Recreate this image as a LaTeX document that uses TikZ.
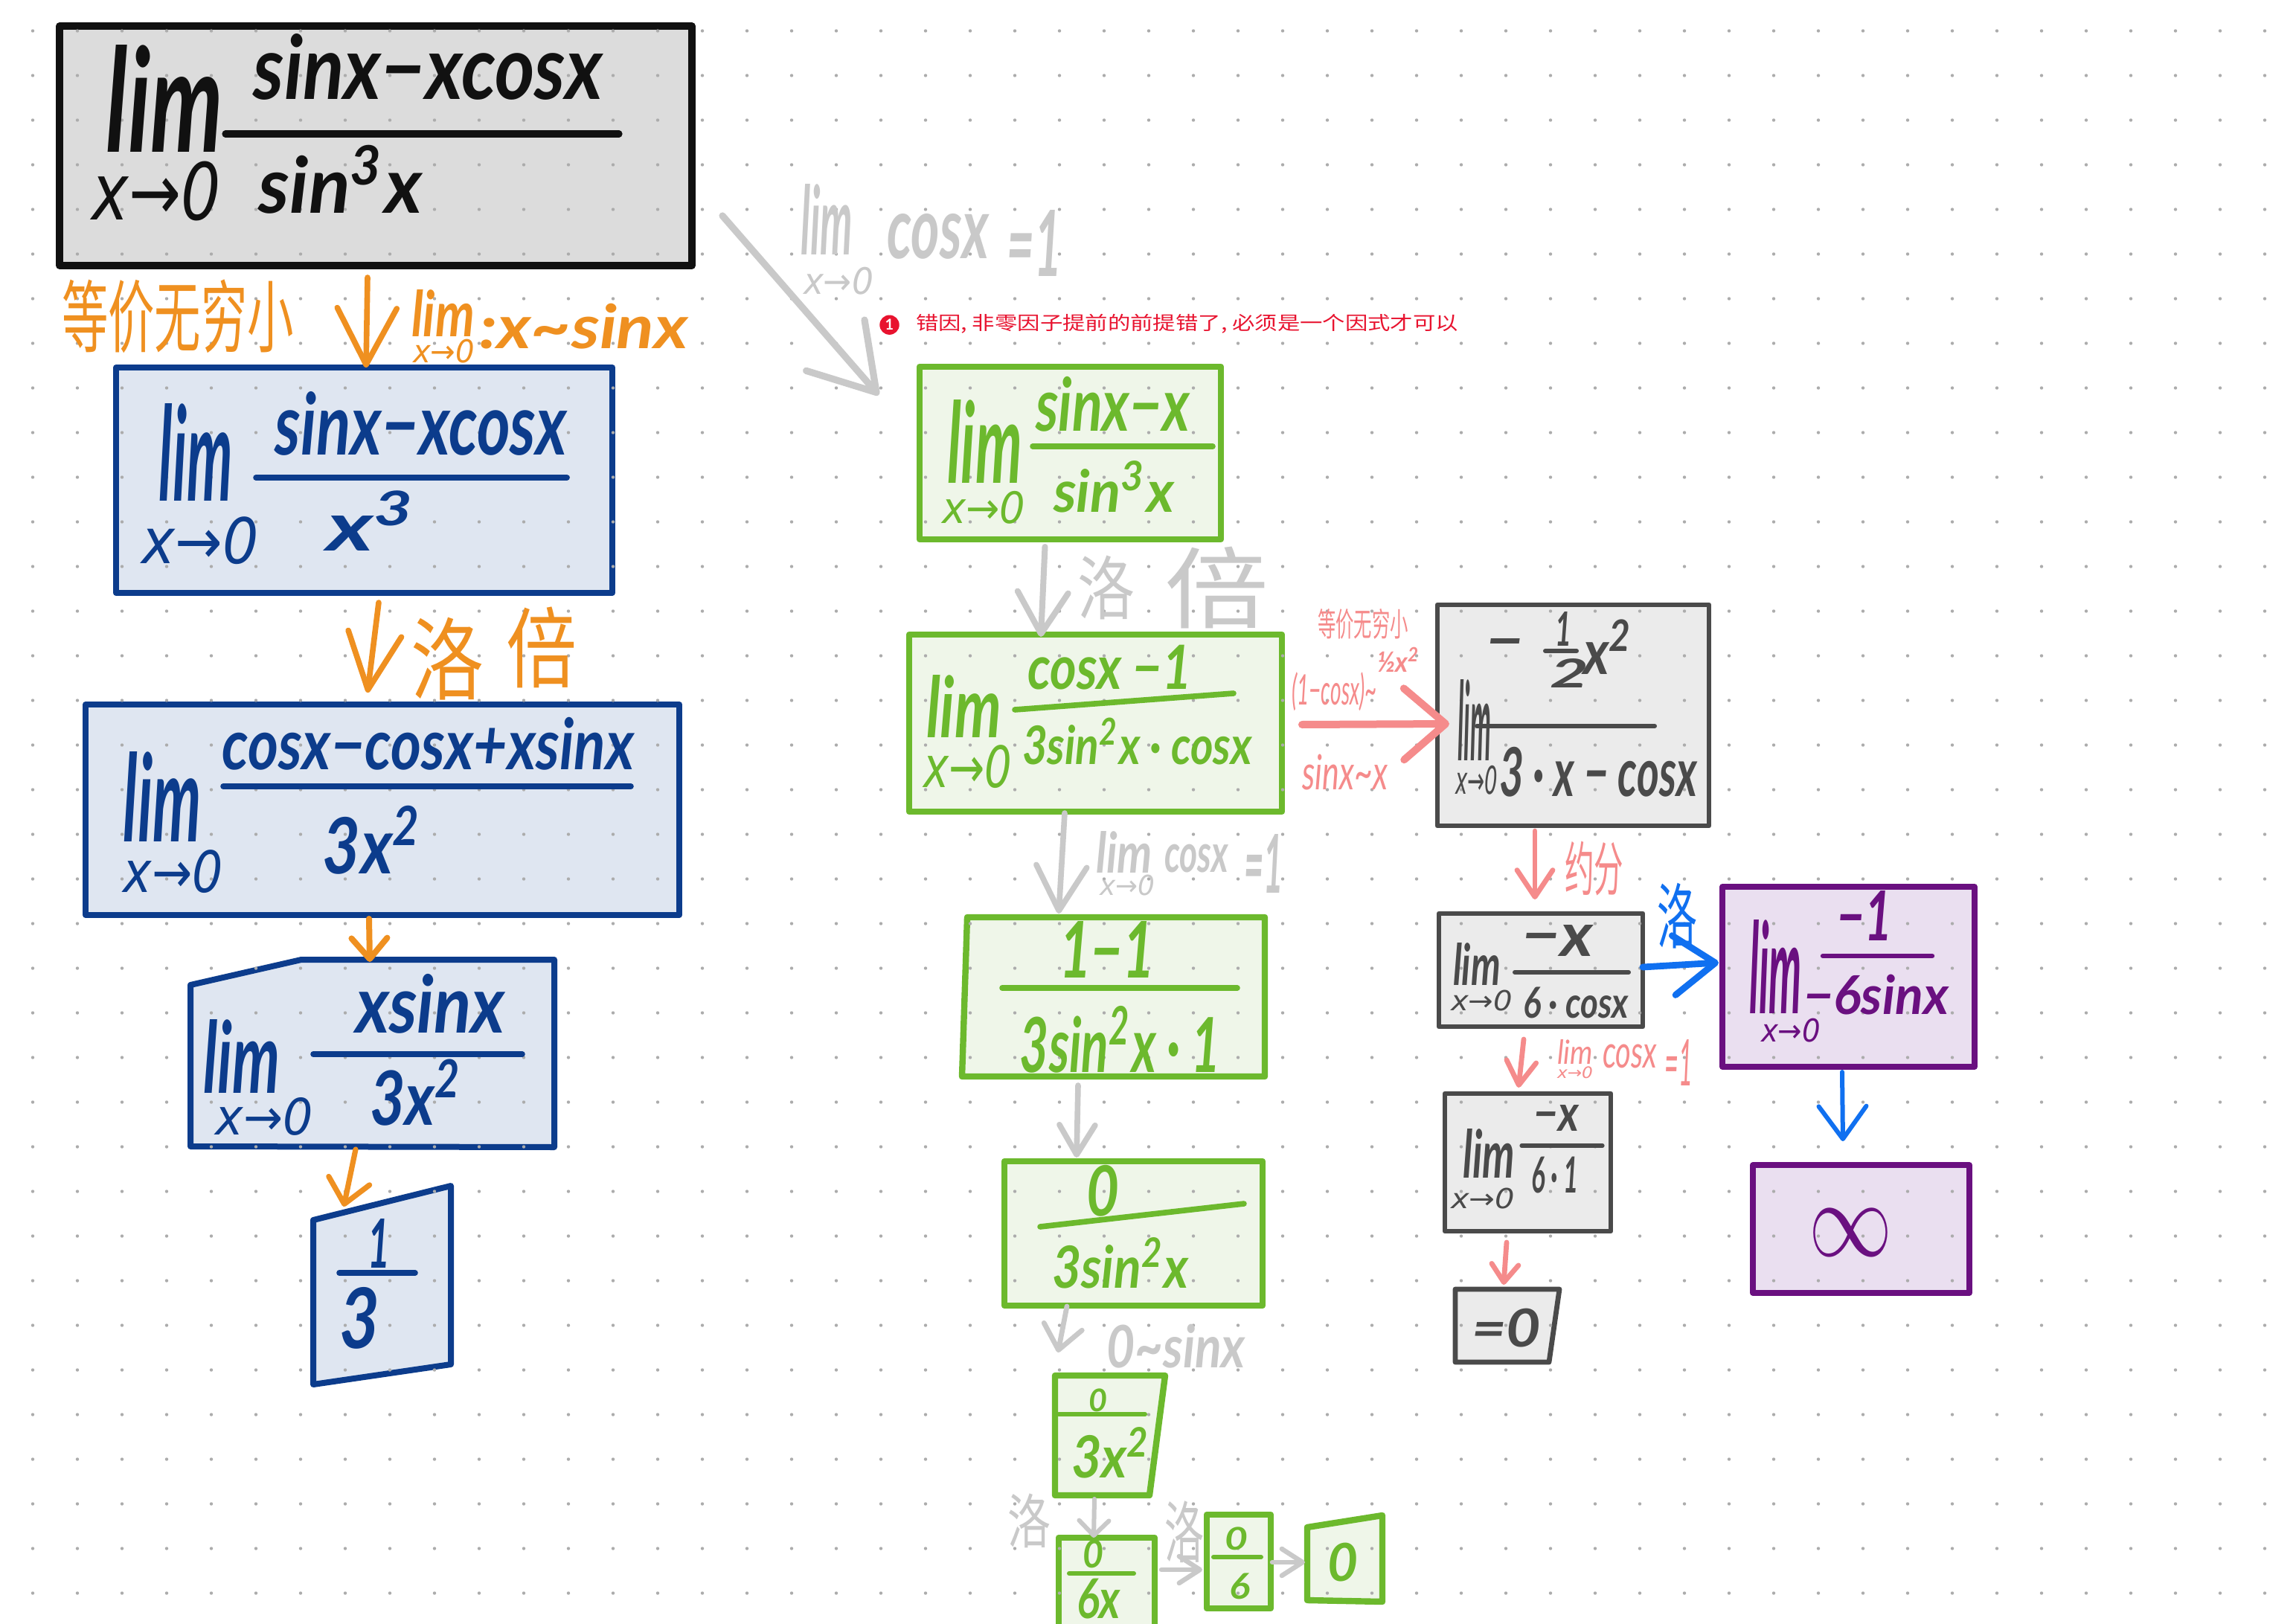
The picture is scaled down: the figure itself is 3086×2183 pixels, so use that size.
\documentclass[tikz,border=0pt]{standalone}
\usepackage{fontspec}
\usepackage{graphicx}
\usetikzlibrary{arrows.meta,calc}
\setmainfont{Lato}
\newfontfamily\cjk{Noto Sans CJK SC}
\newfontfamily\dv{DejaVu Sans}
\definecolor{cblack}{HTML}{111111}
\definecolor{cnavy}{HTML}{0C3C8C}
\definecolor{corange}{HTML}{EF9020}
\definecolor{cgreen}{HTML}{6CB92D}
\definecolor{cghost}{HTML}{C9C9C9}
\definecolor{cdark}{HTML}{4A4A4A}
\definecolor{cpink}{HTML}{F58B8B}
\definecolor{cpurple}{HTML}{6A1080}
\definecolor{cblue}{HTML}{1070F0}
\definecolor{cred}{HTML}{E8132F}
\definecolor{fgray}{HTML}{DCDCDC}
\definecolor{fnavy}{HTML}{DFE6F1}
\definecolor{fgreen}{HTML}{EFF6E9}
\definecolor{fdark}{HTML}{EBEBEB}
\definecolor{fpurple}{HTML}{EADFF0}
\tikzset{
  blackbox/.style={draw=cblack,fill=fgray,line width=2.4pt},
  navybox/.style={draw=cnavy,fill=fnavy,line width=2pt},
  greenbox/.style={draw=cgreen,fill=fgreen,line width=2.1pt},
  darkbox/.style={draw=cdark,fill=fdark,line width=1.7pt},
  purplebox/.style={draw=cpurple,fill=fpurple,line width=1.9pt},
  anchorbox/.style={draw=none,fill=none},
  hw/.style={inner sep=0pt,outer sep=0pt},
  bar/.style={draw=#1,line width=1.9pt,line cap=round},
  arw/.style n args={4}{draw=#1,line width=#2,line cap=round,
    -{Straight Barb[round,length=#3,width=#4]}},
}
\newcommand{\bxnode}[6]{%
  \pgfmathsetlengthmacro\bxw{(#5-#3)*0.25pt}%
  \pgfmathsetlengthmacro\bxh{(#6-#4)*0.25pt}%
  \node[#1,minimum width=\bxw,minimum height=\bxh,inner sep=0pt,outer sep=0pt,line join=round] (#2) at ({(#3+#5)/2},{(#4+#6)/2}) {};}
\newcommand{\hwfont}{\bfseries\itshape}
\newcommand{\hwtext}[7]{%
  \pgfmathsetlengthmacro\hww{(#5-#3)*0.25pt}%
  \pgfmathsetlengthmacro\hwh{(#6-#4)*0.25pt}%
  \node[hw,text=#2] (#1) at ({(#3+#5)/2},{(#4+#6)/2}) {\resizebox*{\hww}{\hwh}{\hwfont #7}};}
\newcommand{\xz}{{\mdseries\dv x→0}}
\newcommand{\sq}{\textsuperscript{2}}
\newcommand{\cjkm}{\normalfont\cjk}
\begin{document}
\begin{tikzpicture}[x=0.25pt,y=-0.25pt]
\useasboundingbox (0,0) rectangle (3086,2183);
\fill[white] (0,0) rectangle (3086,2183);
% --- boxes
\bxnode{blackbox}{b1}{80}{35}{930}{357}
\bxnode{navybox}{b2}{156}{494}{823}{797}
\bxnode{navybox}{b3}{115}{947}{913}{1230}
\bxnode{anchorbox}{b4}{256}{1290}{745}{1542}
\bxnode{anchorbox}{b5}{421}{1594}{606}{1861}
\draw[navybox,line join=round] (256,1324) -- (405,1290) -- (745,1290) -- (745,1542) -- (256,1541) -- cycle;
\draw[navybox,line join=round] (421,1640) -- (606,1594) -- (606,1834) -- (421,1861) -- cycle;
\bxnode{greenbox}{g1}{1236}{493}{1641}{725}
\bxnode{greenbox}{g2}{1222}{853}{1723}{1091}
\bxnode{anchorbox}{g3}{1293}{1233}{1700}{1447}
\draw[greenbox,line join=round] (1300,1233) -- (1700,1233) -- (1700,1447) -- (1293,1447) -- cycle;
\bxnode{greenbox}{g4}{1350}{1561}{1697}{1755}
\bxnode{anchorbox}{g5}{1418}{1849}{1566}{2010}
\draw[greenbox,line join=round] (1418,1849) -- (1566,1849) -- (1545,2010) -- (1418,2010) -- cycle;
\bxnode{greenbox}{g6}{1423}{2067}{1552}{2190}
\bxnode{greenbox}{g7}{1622}{2036}{1708}{2162}
\bxnode{anchorbox}{g8}{1757}{2037}{1858}{2153}
\draw[greenbox,line join=round] (1757,2053) -- (1858,2037) -- (1858,2153) -- (1757,2151) -- cycle;
\bxnode{darkbox}{k1}{1932}{813}{2297}{1110}
\bxnode{darkbox}{k2}{1934}{1228}{2208}{1380}
\bxnode{darkbox}{k3}{1942}{1470}{2165}{1655}
\bxnode{anchorbox}{k4}{1956}{1733}{2096}{1831}
\draw[darkbox,line join=round] (1956,1733) -- (2096,1733) -- (2082,1831) -- (1956,1831) -- cycle;
\bxnode{purplebox}{p1}{2315}{1192}{2654}{1434}
\bxnode{purplebox}{p2}{2356}{1566}{2647}{1738}
% --- dot grid
\fill[gray!65] foreach \i in {0,...,50}{foreach \j in {0,...,35}{({44+60*\i},{41.5+60*\j}) circle (2.2)}};
% --- connectors
\draw[arw={corange}{1.9pt}{19pt}{20pt}] ([shift={(-11,16)}]b1.south) -- ([shift={(2.5,0)}]b2.north);
\draw[arw={corange}{1.9pt}{19pt}{18pt}] ([shift={(19.5,13)}]b2.south) -- ([shift={(-20,-16)}]b3.north);
\draw[arw={corange}{2pt}{7pt}{12pt}] ([shift={(-18,5)}]b3.south) -- ([shift={(-3.5,3)}]b4.north);
\draw[arw={corange}{1.8pt}{8pt}{14pt}] ([shift={(-22.5,3)}]b4.south) -- ([shift={(-51.5,28)}]b5.north);
\draw[arw={cghost}{2.3pt}{21pt}{26pt}] ([shift={(41,-67)}]b1.south east) -- ([shift={(-55,38)}]g1.north west);
\draw[arw={cghost}{2pt}{14pt}{17pt}] ([shift={(-34,10)}]g1.south) -- ([shift={(-73.5,3)}]g2.north);
\draw[arw={cghost}{1.9pt}{15pt}{17pt}] ([shift={(-41.5,2)}]g2.south) -- ([shift={(-73.5,-5)}]g3.north);
\draw[arw={cghost}{1.9pt}{10pt}{12pt}] ([shift={(-47.5,12)}]g3.south) -- ([shift={(-76.5,-5)}]g4.north);
\draw[arw={cghost}{1.7pt}{8pt}{13pt}] ([shift={(-89.5,1)}]g4.south) -- ([shift={(-70,-31)}]g5.north);
\draw[arw={cghost}{1.5pt}{5pt}{10pt}] ([shift={(-21,5)}]g5.south) -- ([shift={(-17.5,0)}]g6.north);
\draw[arw={cghost}{1.6pt}{7pt}{9pt}] ([shift={(9,-18.5)}]g6.east) -- ([shift={(-6,11)}]g7.west);
\draw[arw={cghost}{1.6pt}{7pt}{9pt}] ([shift={(2,1)}]g7.east) -- ([shift={(-3,5)}]g8.west);
\draw[arw={cpink}{2.5pt}{14pt}{24pt}] ([shift={(27,2)}]g2.east) -- ([shift={(16,11.5)}]k1.west);
\draw[arw={cpink}{1.7pt}{9pt}{12pt}] ([shift={(-51.5,7)}]k1.south) -- ([shift={(-8,-19)}]k2.north);
\draw[arw={cblue}{2.2pt}{14pt}{20pt}] ([shift={(0,-4)}]k2.east) -- ([shift={(-5,-19)}]p1.west);
\draw[arw={cpink}{1.7pt}{8pt}{10pt}] ([shift={(-23,17)}]k2.south) -- ([shift={(-12.5,-8)}]k3.north);
\draw[arw={cpink}{1.7pt}{6pt}{9pt}] ([shift={(-28.5,15)}]k3.south) -- ([shift={(-5,-6)}]k4.north);
\draw[arw={cblue}{1.5pt}{11pt}{16pt}] ([shift={(-8.5,7)}]p1.south) -- ([shift={(-24.5,-32)}]p2.north);
% --- fraction bars
\draw[bar=cblack,line width=2.3pt] (303,180) -- (832,180);
\draw[bar=cnavy] (344,642) -- (762,642);
\draw[bar=cnavy] (300,1057) -- (848,1057);
\draw[bar=cnavy] (421,1417) -- (702,1417);
\draw[bar=cnavy] (456,1711) -- (558,1711);
\draw[bar=cgreen] (1388,600) -- (1630,600);
\draw[bar=cgreen] (1364,954) -- (1658,932);
\draw[bar=cgreen] (1347,1328) -- (1663,1328);
\draw[bar=cgreen] (1398,1649) -- (1672,1618);
\draw[bar=cgreen,line width=1.5pt] (1423,1901) -- (1539,1901);
\draw[bar=cgreen,line width=1.5pt] (1437,2115) -- (1524,2115);
\draw[bar=cgreen,line width=1.5pt] (1631,2093) -- (1695,2093);
\draw[bar=cdark,line width=1.5pt] (1985,976) -- (2224,976);
\draw[bar=cdark,line width=1.5pt] (2077,875) -- (2119,875);
\draw[bar=cdark,line width=1.5pt] (2036,1307) -- (2189,1307);
\draw[bar=cdark,line width=1.3pt] (2045,1540) -- (2154,1540);
\draw[bar=cpurple,line width=1.6pt] (2450,1285) -- (2597,1285);
% --- box 1
\hwtext{t1}{cblack}{143}{60}{300}{204}{lim}
\hwtext{t2}{cblack}{124}{217}{297}{297}{\xz}
\hwtext{t3}{cblack}{341}{45}{810}{134}{sinx−xcosx}
\hwtext{t4}{cblack}{348}{195}{568}{287}{sin\textsuperscript{3}x}
% --- orange labels
\hwtext{t5}{corange}{83}{376}{395}{475}{\cjkm 等价无穷小}
\hwtext{t6}{corange}{553}{389}{638}{452}{lim}
\hwtext{t7}{corange}{555}{456}{638}{488}{\xz}
\hwtext{t8}{corange}{644}{408}{925}{469}{:x\string~sinx}
\hwtext{t9}{corange}{552}{830}{650}{941}{\cjkm 洛}
\hwtext{t10}{corange}{680}{816}{775}{925}{\cjkm 倍}
% --- box 2
\hwtext{t11}{cnavy}{214}{542}{313}{673}{lim}
\hwtext{t12}{cnavy}{191}{695}{348}{759}{\xz}
\hwtext{t13}{cnavy}{370}{526}{762}{612}{sinx−xcosx}
\hwtext{t14}{cnavy}{440}{660}{561}{740}{x\textsuperscript{3}}
% --- box 3
\hwtext{t15}{cnavy}{299}{964}{852}{1035}{cosx−cosx+xsinx}
\hwtext{t16}{cnavy}{166}{1010}{271}{1131}{lim}
\hwtext{t17}{cnavy}{166}{1143}{300}{1201}{\xz}
\hwtext{t18}{cnavy}{434}{1083}{568}{1175}{3x\sq}
% --- box 4
\hwtext{t19}{cnavy}{273}{1370}{376}{1469}{lim}
\hwtext{t20}{cnavy}{290}{1475}{421}{1526}{\xz}
\hwtext{t21}{cnavy}{478}{1309}{679}{1389}{xsinx}
\hwtext{t22}{cnavy}{497}{1424}{622}{1513}{3x\sq}
% --- box 5
\hwtext{t23}{cnavy}{494}{1638}{524}{1704}{1}
\hwtext{t24}{cnavy}{456}{1730}{510}{1813}{3}
% --- grey note top
\hwtext{t25}{cghost}{1076}{247}{1146}{342}{lim}
\hwtext{t26}{cghost}{1080}{359}{1174}{396}{\xz}
\hwtext{t27}{cghost}{1192}{287}{1329}{348}{cosx}
\hwtext{t28}{cghost}{1353}{282}{1427}{371}{=1}
% --- red remark
\node[hw,circle,fill=cred,text=white,minimum size=6.6pt,font=\bfseries\fontsize{5}{5}\selectfont] (rb) at (1195.5,436.7) {1};
\hwtext{t29}{cred}{1231}{422}{1960}{448}{\cjkm 错因, 非零因子提前的前提错了, 必须是一个因式才可以}
% --- green 1
\hwtext{t30}{cgreen}{1273}{537}{1374}{649}{lim}
\hwtext{t31}{cgreen}{1266}{660}{1378}{704}{\xz}
\hwtext{t32}{cgreen}{1392}{506}{1599}{580}{sinx−x}
\hwtext{t33}{cgreen}{1416}{620}{1578}{689}{sin\textsuperscript{3}x}
\hwtext{t34}{cghost}{1448}{747}{1525}{833}{\cjkm 洛}
\hwtext{t35}{cghost}{1565}{735}{1705}{845}{\cjkm 倍}
% --- green 2
\hwtext{t36}{cgreen}{1245}{907}{1346}{991}{lim}
\hwtext{t37}{cgreen}{1241}{1002}{1360}{1060}{\xz}
\hwtext{t38}{cgreen}{1381}{867}{1602}{927}{cosx −1}
\hwtext{t39}{cgreen}{1374}{965}{1683}{1028}{3sin\sq x · cosx}
% --- pink labels
\hwtext{t40}{cpink}{1771}{818}{1893}{859}{\cjkm 等价无穷小}
\hwtext{t41}{cpink}{1851}{870}{1908}{903}{½x\sq}
\hwtext{t42}{cpink}{1736}{904}{1851}{956}{\mdseries(1−cosx)\string~}
\hwtext{t43}{cpink}{1750}{1014}{1865}{1062}{\mdseries sinx\string~x}
% --- dark 1
\hwtext{t44}{cdark}{1997}{858}{2048}{888}{−}
\hwtext{t45}{cdark}{2090}{822}{2112}{868}{1}
\hwtext{t46}{cdark}{2083}{885}{2135}{924}{2}
\hwtext{t47}{cdark}{2128}{833}{2195}{906}{x\sq}
\hwtext{t48}{cdark}{1959}{913}{2004}{1022}{lim}
\hwtext{t49}{cdark}{1956}{1029}{2013}{1068}{\xz}
\hwtext{t50}{cdark}{2015}{1004}{2281}{1071}{3 · x − cosx}
\hwtext{t51}{cpink}{2103}{1131}{2182}{1204}{\cjkm 约分}
% --- dark 2
\hwtext{t52}{cdark}{1953}{1267}{2017}{1324}{lim}
\hwtext{t53}{cdark}{1950}{1331}{2033}{1359}{\xz}
\hwtext{t54}{cdark}{2045}{1243}{2141}{1285}{−x}
\hwtext{t55}{cdark}{2047}{1327}{2189}{1369}{6 · cosx}
\hwtext{t56}{cblue}{2227}{1187}{2281}{1275}{\cjkm 洛}
\hwtext{t57}{cpink}{2093}{1397}{2141}{1430}{\mdseries lim}
\hwtext{t58}{cpink}{2093}{1434}{2141}{1450}{\xz}
\hwtext{t59}{cpink}{2154}{1404}{2227}{1436}{\mdseries cosx}
\hwtext{t60}{cpink}{2237}{1397}{2275}{1459}{\mdseries =1}
% --- dark 3, 4
\hwtext{t61}{cdark}{1966}{1517}{2036}{1583}{lim}
\hwtext{t62}{cdark}{1950}{1597}{2036}{1625}{\xz}
\hwtext{t63}{cdark}{2061}{1485}{2122}{1520}{−x}
\hwtext{t64}{cdark}{2058}{1555}{2122}{1604}{6 · 1}
\hwtext{t65}{cdark}{1978}{1759}{2071}{1811}{=0}
% --- purple
\hwtext{t66}{cpurple}{2351}{1236}{2422}{1362}{lim}
\hwtext{t67}{cpurple}{2367}{1369}{2447}{1401}{\xz}
\hwtext{t68}{cpurple}{2469}{1197}{2543}{1264}{−1}
\hwtext{t69}{cpurple}{2424}{1310}{2619}{1364}{−6sinx}
\hwtext{t70}{cpurple}{2431}{1625}{2543}{1688}{$\infty$}
% --- green 3
\hwtext{t71}{cghost}{1473}{1117}{1549}{1173}{lim}
\hwtext{t72}{cghost}{1478}{1176}{1552}{1204}{\xz}
\hwtext{t73}{cghost}{1565}{1135}{1651}{1173}{cosx}
\hwtext{t74}{cghost}{1672}{1121}{1725}{1200}{=1}
\hwtext{t75}{cgreen}{1424}{1238}{1552}{1314}{1−1}
\hwtext{t76}{cgreen}{1371}{1352}{1641}{1442}{3sin\sq x · 1}
% --- green 4
\hwtext{t77}{cgreen}{1460}{1566}{1504}{1635}{0}
\hwtext{t78}{cgreen}{1414}{1663}{1598}{1732}{3sin\sq x}
\hwtext{t79}{cghost}{1487}{1780}{1674}{1839}{0\string~sinx}
% --- green 5-8
\hwtext{t80}{cgreen}{1463}{1867}{1488}{1898}{0}
\hwtext{t81}{cgreen}{1440}{1918}{1547}{1987}{3x\sq}
\hwtext{t82}{cghost}{1354}{2008}{1412}{2081}{\cjkm 洛}
\hwtext{t83}{cgreen}{1455}{2070}{1483}{2108}{0}
\hwtext{t84}{cgreen}{1447}{2122}{1506}{2176}{6x}
\hwtext{t85}{cghost}{1565}{2018}{1618}{2101}{\cjkm 洛}
\hwtext{t86}{cgreen}{1646}{2053}{1677}{2084}{0}
\hwtext{t87}{cgreen}{1652}{2115}{1680}{2150}{6}
\hwtext{t88}{cgreen}{1784}{2074}{1825}{2126}{0}
\end{tikzpicture}
\end{document}
